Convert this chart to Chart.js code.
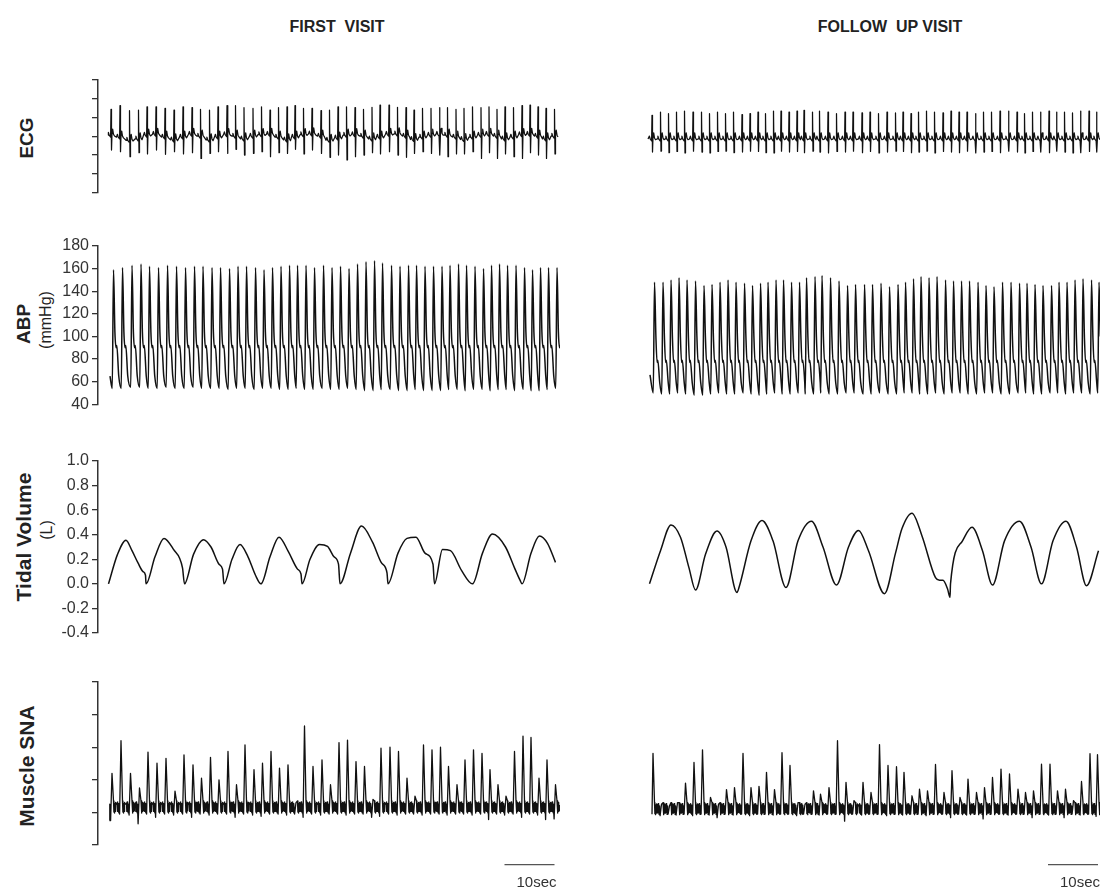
<!DOCTYPE html>
<html>
<head>
<meta charset="utf-8">
<title>First visit / follow up visit recordings</title>
<script src="https://cdn.jsdelivr.net/npm/chart.js@4.4.1/dist/chart.umd.min.js"></script>
<style>
  body { margin: 0; background: #fff; }
  #page { position: relative; width: 1103px; height: 894px; overflow: hidden;
          font-family: "Liberation Sans", Arial, sans-serif; color: #222; }
  canvas { position: absolute; }
  .head { position: absolute; top: 18px; font-weight: bold; font-size: 16px;
          transform: translateX(-50%); white-space: pre; }
  .ylab { position: absolute; transform: translate(-50%, -50%) rotate(-90deg);
          white-space: nowrap; font-weight: bold; font-size: 19px; }
  .big { font-size: 21px; }
  .unit { font-weight: normal; font-size: 16px; }
</style>
</head>
<body>
<div id="page">
  <div class="head" style="left:337px">FIRST  VISIT</div>
  <div class="head" style="left:890px">FOLLOW  UP VISIT</div>

  <div class="ylab" style="left:27px;top:138px">ECG</div>
  <div class="ylab" style="left:24px;top:324px">ABP</div>
  <div class="ylab unit" style="left:46px;top:320px">(mmHg)</div>
  <div class="ylab big" style="left:24px;top:537px">Tidal Volume</div>
  <div class="ylab unit" style="left:47px;top:530px">(L)</div>
  <div class="ylab big" style="left:27px;top:766px">Muscle SNA</div>

  <canvas id="ecg1" width="570" height="150" style="left:0;top:60px"></canvas>
  <canvas id="ecg2" width="503" height="150" style="left:600px;top:60px"></canvas>
  <canvas id="abp1" width="570" height="200" style="left:0;top:225px"></canvas>
  <canvas id="abp2" width="503" height="200" style="left:600px;top:225px"></canvas>
  <canvas id="tv1" width="570" height="215" style="left:0;top:440px"></canvas>
  <canvas id="tv2" width="503" height="215" style="left:600px;top:440px"></canvas>
  <canvas id="sna1" width="570" height="234" style="left:0;top:660px"></canvas>
  <canvas id="sna2" width="503" height="234" style="left:600px;top:660px"></canvas>
</div>

<script>
// ---- recorded values (time in s) ----

// systolic peak time of every cardiac cycle
const beats1 = [3.1, 4.9, 6.8, 8.6, 10.3, 12.1, 13.9, 15.7, 17.5, 19.3,
  21.0, 22.8, 24.5, 26.3, 28.0, 29.7, 31.5, 33.2, 34.9, 36.6,
  38.3, 39.9, 41.6, 43.3, 45.1, 46.8, 48.5, 50.2, 51.9, 53.6,
  55.3, 56.9, 58.7, 60.4, 62.1, 63.7, 65.4, 67.1, 68.8, 70.4,
  72.1, 73.7, 75.4, 77.1, 78.7, 80.3, 81.9, 83.6, 85.3, 86.9,
  88.5, 90.1, 91.8];
const beats2 = [1.9, 3.6, 5.2, 6.8, 8.4, 10.1, 11.8, 13.4, 15.0, 16.6,
  18.2, 19.9, 21.5, 23.1, 24.6, 26.2, 27.7, 29.3, 30.9, 32.3,
  34.0, 35.4, 37.1, 38.8, 40.5, 42.1, 43.9, 45.5, 47.2, 48.9,
  50.6, 52.1, 53.7, 55.2, 56.8, 58.4, 60.1, 61.7, 63.3, 64.9,
  66.6, 68.2, 69.8, 71.5, 73.2, 74.9, 76.4, 78.0, 79.6, 81.3,
  82.8, 84.4, 86.0, 87.6, 89.3, 90.8];

// ECG (arbitrary units, axis 0..6)
const ecgR1 = [4.43, 4.63, 4.36, 4.39, 4.57, 4.57, 4.48, 4.39, 4.57, 4.52,
  4.43, 4.39, 4.57, 4.63, 4.63, 4.52, 4.48, 4.57, 4.39, 4.52,
  4.57, 4.63, 4.48, 4.48, 4.36, 4.39, 4.57, 4.57, 4.52, 4.43,
  4.54, 4.66, 4.66, 4.54, 4.52, 4.39, 4.48, 4.48, 4.52, 4.52,
  4.43, 4.48, 4.57, 4.52, 4.57, 4.43, 4.57, 4.52, 4.63, 4.66,
  4.57, 4.48, 4.43];
const ecgS1 = [2.26, 2.17, 1.9, 2.12, 2.05, 2.26, 2.03, 2.17, 2.05, 2.12,
  1.81, 2.08, 2.17, 2.08, 2.3, 1.99, 2.08, 2.17, 1.9, 2.12,
  2.08, 2.3, 2.05, 2.26, 2.08, 1.87, 1.99, 1.73, 1.9, 1.99,
  2.12, 2.05, 2.17, 1.99, 1.87, 2.08, 2.17, 2.08, 1.99, 1.9,
  2.05, 2.05, 2.17, 1.81, 2.12, 1.81, 2.05, 1.9, 1.81, 2.12,
  1.99, 1.81, 2.05];
const ecgBase1 = [3.05, 2.95, 2.78, 2.85, 3.05, 3.1, 2.95, 2.8, 2.95, 3.1,
  3.0, 2.8, 2.95, 3.08, 3.0, 2.85, 3.0, 3.08, 3.1, 2.95,
  2.8, 2.95, 3.08, 3.12, 3.0, 2.78, 2.9, 3.05, 3.08, 3.0,
  2.85, 2.95, 3.1, 3.12, 3.0, 2.82, 2.95, 3.05, 3.1, 3.05,
  2.95, 2.82, 2.95, 3.05, 3.1, 3.0, 2.85, 2.95, 3.08, 3.1,
  3.0, 2.85, 3.0];
const ecgR2 = [4.11, 4.29, 4.2, 4.29, 4.34, 4.29, 4.29, 4.2, 4.29, 4.2,
  4.29, 4.15, 4.2, 4.29, 4.2, 4.34, 4.34, 4.29, 4.34, 4.38,
  4.29, 4.34, 4.29, 4.2, 4.29, 4.29, 4.24, 4.29, 4.2, 4.29,
  4.24, 4.29, 4.2, 4.29, 4.34, 4.29, 4.24, 4.34, 4.29, 4.29,
  4.2, 4.29, 4.29, 4.34, 4.34, 4.29, 4.2, 4.29, 4.29, 4.34,
  4.29, 4.29, 4.24, 4.34, 4.34, 4.29];
const ecgS2 = [2.15, 2.2, 2.12, 2.18, 2.1, 2.2, 2.15, 2.1, 2.18, 2.2,
  2.12, 2.15, 2.2, 2.18, 2.12, 2.1, 2.2, 2.15, 2.18, 2.12,
  2.2, 2.15, 2.1, 2.18, 2.15, 2.2, 2.12, 2.18, 2.1, 2.15,
  2.2, 2.18, 2.12, 2.15, 2.2, 2.1, 2.18, 2.15, 2.12, 2.2,
  2.1, 2.15, 2.18, 2.12, 2.2, 2.15, 2.1, 2.18, 2.15, 2.12,
  2.2, 2.15, 2.1, 2.12, 2.18, 2.15];
const ecgBase2 = 2.85;

// arterial pressure, mmHg
const abpSys1 = [159, 161, 163, 164, 162, 161, 163, 162, 161, 162,
  162, 161, 161, 160, 162, 162, 161, 159, 161, 162,
  163, 163, 163, 161, 163, 161, 162, 160, 164, 166,
  167, 165, 163, 162, 163, 163, 162, 162, 162, 163,
  164, 163, 162, 160, 163, 164, 163, 163, 161, 159,
  161, 161, 161];
const abpDia1 = [54, 54, 55, 55, 54, 54, 55, 54, 54, 55,
  54, 54, 54, 53, 54, 54, 53, 54, 54, 53,
  53, 54, 53, 53, 54, 53, 53, 54, 53, 52,
  52, 53, 53, 52, 52, 53, 52, 52, 52, 53,
  53, 52, 53, 53, 52, 53, 53, 52, 53, 52,
  52, 53, 54];
const abpSys2 = [148, 148, 150, 152, 150, 149, 145, 146, 148, 150,
  148, 147, 145, 147, 148, 150, 150, 148, 148, 152,
  153, 154, 152, 149, 145, 146, 146, 146, 147, 144,
  146, 148, 151, 153, 152, 153, 150, 149, 149, 149,
  148, 145, 144, 148, 148, 147, 147, 146, 145, 145,
  148, 148, 150, 151, 150, 148];
const abpDia2 = [50, 49, 49, 50, 49, 48, 48, 49, 50, 49,
  49, 50, 49, 48, 49, 50, 49, 49, 50, 49,
  49, 50, 49, 49, 50, 50, 49, 49, 50, 49,
  49, 50, 50, 49, 49, 50, 49, 50, 50, 49,
  49, 50, 50, 49, 49, 50, 50, 49, 49, 50,
  50, 49, 50, 50, 49, 50];
const abpDrop = [104, 100];   // end of the fast systolic fall
const abpNotch = [90, 77];    // dicrotic notch level
const abpLate = [65, 59];     // late diastole, before the next upstroke

// tidal volume, L
const tvTime1 = [2.1, 3.9, 5.6, 6.8, 8.0, 9.0, 9.5, 9.6, 11.4, 13.2, 15.1, 16.9, 17.3,
  19.1, 21.1, 22.6, 24.2, 24.9, 25.2, 26.8, 28.4, 30.0, 31.5, 32.6,
  34.4, 36.2, 38.1, 39.9, 40.6, 40.8, 42.4, 44.3, 45.9, 47.2, 48.1, 48.4,
  50.5, 52.7, 54.9, 56.7, 57.8, 58.0, 60.0, 61.8, 63.6, 65.4, 67.0, 67.3,
  68.9, 70.5, 72.7, 74.9, 76.9, 78.9, 81.5, 83.3, 84.4, 84.8,
  86.6, 88.3, 89.9, 91.5];
const tvVol1 = [0.0, 0.24, 0.355, 0.27, 0.17, 0.10, 0.07, 0.0, 0.22, 0.37, 0.28, 0.13, 0.0,
  0.24, 0.36, 0.30, 0.16, 0.12, 0.0, 0.20, 0.32, 0.22, 0.07, 0.0,
  0.22, 0.38, 0.26, 0.12, 0.08, 0.0, 0.20, 0.32, 0.305, 0.22, 0.16, 0.0,
  0.25, 0.47, 0.34, 0.17, 0.09, 0.0, 0.25, 0.37, 0.38, 0.25, 0.16, 0.0,
  0.28, 0.27, 0.11, 0.0, 0.25, 0.405, 0.30, 0.13, 0.03, 0.0,
  0.25, 0.39, 0.33, 0.175];
const tvTime2 = [0.9, 3.1, 5.2, 7.1, 8.8, 10.1, 12.1, 14.4, 16.2, 18.4, 18.8,
  21.2, 23.4, 25.6, 28.2, 30.6, 33.3, 35.6, 38.3, 40.7, 42.7, 44.7, 47.9,
  50.1, 51.4, 53.4, 55.4, 58.1, 58.9, 59.6, 60.5, 61.0, 61.1,
  63.5, 65.4, 67.5, 69.5, 71.9, 74.9, 77.2, 79.3, 81.6, 84.2, 86.3, 88.3, 90.7];
const tvVol2 = [0.0, 0.27, 0.48, 0.38, 0.13, -0.05, 0.24, 0.43, 0.30, -0.07, -0.03,
  0.35, 0.515, 0.35, -0.03, 0.35, 0.51, 0.30, -0.01, 0.30, 0.435, 0.27, -0.08,
  0.25, 0.45, 0.575, 0.39, 0.05, 0.03, 0.03, -0.04, -0.11, 0.0,
  0.35, 0.46, 0.27, -0.01, 0.35, 0.51, 0.30, 0.0, 0.35, 0.51, 0.30, -0.015, 0.27];

// muscle sympathetic nerve activity, burst height per cardiac cycle (axis 0..5)
const snaPeak1 = [2.2, 3.2, 2.2, 1.75, 2.85, 2.51, 2.66, 1.65, 2.76, 2.46,
  2.05, 2.69, 2.0, 2.87, 1.85, 3.07, 2.31, 2.51, 2.87, 2.36,
  2.46, 1.3, 3.65, 2.41, 2.61, 1.85, 3.14, 3.22, 2.56, 2.41,
  1.4, 2.97, 3.0, 2.87, 2.05, 1.5, 3.07, 2.92, 3.0, 2.41,
  1.85, 2.61, 2.92, 2.81, 2.31, 1.85, 1.5, 2.87, 3.34, 3.3,
  2.05, 2.61, 1.85];
const snaLow1 = [0.75, 0.95, 0.92, 0.65, 0.95, 0.85, 0.95, 0.92, 0.95, 0.85,
  0.95, 0.92, 0.95, 0.95, 0.85, 0.95, 0.92, 0.88, 0.95, 0.95,
  0.92, 0.95, 0.85, 0.95, 0.92, 0.95, 0.95, 0.92, 0.95, 0.95,
  0.85, 0.88, 0.95, 0.92, 0.95, 0.95, 0.92, 0.95, 0.95, 0.92,
  0.95, 0.95, 0.92, 0.95, 0.78, 0.95, 0.92, 0.95, 0.85, 0.95,
  0.92, 0.78, 0.8];
const snaPeak2 = [2.81, 1.25, 1.2, 1.3, 1.9, 2.53, 2.92, 1.46, 1.25, 1.7,
  1.76, 2.81, 1.76, 1.8, 2.23, 1.7, 2.83, 2.44, 1.3, 1.25,
  1.66, 1.56, 1.76, 3.2, 1.92, 1.36, 1.92, 1.61, 3.08, 2.44,
  2.4, 2.23, 1.51, 1.71, 1.66, 2.47, 1.61, 2.28, 1.46, 2.02,
  1.61, 1.76, 2.07, 2.33, 2.18, 1.71, 1.61, 1.66, 2.48, 2.48,
  1.66, 1.71, 1.36, 1.95, 2.8, 2.77];
const snaLow2 = [0.94, 0.9, 0.95, 0.92, 0.95, 0.9, 0.95, 0.92, 0.84, 0.95,
  0.92, 0.95, 0.9, 0.95, 0.95, 0.92, 0.95, 0.95, 0.9, 0.95,
  0.95, 0.92, 0.95, 0.95, 0.73, 0.95, 0.92, 0.95, 0.95, 0.9,
  0.95, 0.92, 0.95, 0.95, 0.9, 0.95, 0.95, 0.84, 0.95, 0.92,
  0.95, 0.8, 0.95, 0.95, 0.92, 0.95, 0.95, 0.84, 0.95, 0.92,
  0.95, 0.84, 0.95, 0.92, 0.95, 0.88];
const snaBase = [1.15, 1.1];

// where each trace begins: [time, value]
const ecgStart = [2.0, 0.6];
const abpStart = [[2.4, 65], [1.0, 66]];
const snaStart = [[2.3, 0.75], [1.4, 0.94]];

// time windows and the 10 s calibration bar
const windowSec = [92.4, 91];
const scaleBar = [[81.3, 91.3], [80.6, 90.6]];

// ---- waveform builders ----

const lead = (t0, v0, pts) => [{ x: t0, y: v0 }].concat(pts.filter(p => p.x > t0));

function ecgTrace(beats, rAmp, sAmp, base, t0) {
  const pts = [];
  beats.forEach((tp, i) => {
    const r = tp - 0.5;
    const b = Array.isArray(base) ? base[i] : base;
    pts.push(
      { x: r - 0.7, y: b },
      { x: r - 0.52, y: b + 0.15 },
      { x: r - 0.36, y: b },
      { x: r - 0.08, y: b - 0.1 },
      { x: r, y: rAmp[i] },
      { x: r + 0.1, y: sAmp[i] },
      { x: r + 0.2, y: b + 0.1 },
      { x: r + 0.34, y: b + 0.32 },
      { x: r + 0.5, y: b + 0.05 },
      { x: r + 0.7, y: b - 0.04 }
    );
  });
  return lead(t0, Array.isArray(base) ? base[0] : base, pts);
}

function abpTrace(beats, sys, dia, col, start) {
  const pts = [];
  beats.forEach((tp, i) => {
    pts.push(
      { x: tp - 0.25, y: dia[i] },
      { x: tp, y: sys[i] },
      { x: tp + 0.28, y: abpDrop[col] },
      { x: tp + 0.52, y: abpNotch[col] },
      { x: tp + 0.66, y: abpNotch[col] + 2 },
      { x: tp + 1.05, y: abpLate[col] }
    );
  });
  return lead(start[0], start[1], pts);
}

// baseline jitter of the integrated neurogram, relative to the resting level
const snaJitter = [0.14, -0.12, 0.17, -0.1, 0.12, -0.16, 0.1, -0.08];

function snaTrace(beats, peak, low, b, start) {
  const pts = [];
  beats.forEach((tp, i) => {
    const tb = tp - 0.3;
    snaJitter.forEach((d, k) => pts.push({ x: tb - 0.8 + k * 0.065, y: b + d }));
    pts.push(
      { x: tb - 0.28, y: low[i] },
      { x: tb, y: peak[i] },
      { x: tb + 0.3, y: b + 0.2 }
    );
    snaJitter.forEach((d, k) => pts.push({ x: tb + 0.38 + k * 0.055, y: b - d }));
  });
  return lead(start[0], start[1], pts);
}

// ---- chart setup ----

const FONT = '"Liberation Sans", Arial, sans-serif';
const INK = '#111';

const barLabel = {
  id: 'barLabel',
  afterDatasetsDraw(chart, args, opts) {
    const { ctx, scales: { x, y } } = chart;
    ctx.save();
    ctx.font = '15px ' + FONT;
    ctx.fillStyle = '#333';
    ctx.textAlign = 'right';
    ctx.textBaseline = 'middle';
    ctx.fillText('10sec', x.getPixelForValue(opts.end) + 2, y.getPixelForValue(-1.17));
    ctx.restore();
  }
};

function yAxis(left, min, max, step, showLabels, fmt) {
  if (!left) return { display: false, min, max };
  return {
    position: 'left',
    min, max,
    ticks: {
      display: showLabels,
      stepSize: step,
      color: '#333',
      padding: 3,
      font: { family: FONT, size: 16 },
      callback: fmt || (v => v)
    },
    grid: { drawOnChartArea: false, drawTicks: true, tickLength: 6, color: '#333', lineWidth: 1.3 },
    border: { display: true, color: '#333', width: 1.5 },
    afterFit: s => { s.width = 98; }
  };
}

function makeChart(id, col, datasets, y, pad, extra) {
  const cfg = {
    type: 'line',
    data: { datasets },
    options: {
      responsive: false,
      animation: false,
      devicePixelRatio: 1,
      layout: { padding: { left: col === 0 ? 0 : 45, right: col === 0 ? 10 : 3, top: pad[0], bottom: pad[1] } },
      plugins: { legend: { display: false }, tooltip: { enabled: false } },
      elements: { point: { radius: 0 } },
      scales: {
        x: { type: 'linear', display: false, min: 0, max: windowSec[col] },
        y
      }
    }
  };
  if (extra) {
    cfg.plugins = [barLabel];
    cfg.options.plugins.barLabel = extra;
  }
  return new Chart(document.getElementById(id), cfg);
}

const trace = (data, width, smooth) => ({
  data,
  borderColor: INK,
  borderWidth: width,
  borderJoinStyle: 'round',
  cubicInterpolationMode: smooth ? 'monotone' : 'default',
  tension: 0
});

const tvFmt = v => (Math.abs(v) < 1e-9 ? '0.0' : Number(v).toFixed(1));

// ECG
makeChart('ecg1', 0, [trace(ecgTrace(beats1, ecgR1, ecgS1, ecgBase1, ecgStart[0]), 1.25)],
  yAxis(true, 0, 6, 1, false), [20, 17.7]);
makeChart('ecg2', 1, [trace(ecgTrace(beats2, ecgR2, ecgS2, ecgBase2, ecgStart[1]), 1.25)],
  yAxis(false, 0, 6), [20, 17.7]);

// ABP
makeChart('abp1', 0, [trace(abpTrace(beats1, abpSys1, abpDia1, 0, abpStart[0]), 1.5, true)],
  yAxis(true, 40, 180, 20, true), [21, 20.7]);
makeChart('abp2', 1, [trace(abpTrace(beats2, abpSys2, abpDia2, 1, abpStart[1]), 1.5, true)],
  yAxis(false, 40, 180), [21, 20.7]);

// tidal volume
makeChart('tv1', 0, [trace(tvTime1.map((t, i) => ({ x: t, y: tvVol1[i] })), 1.5, true)],
  yAxis(true, -0.4, 1.0, 0.2, true, tvFmt), [21, 22]);
makeChart('tv2', 1, [trace(tvTime2.map((t, i) => ({ x: t, y: tvVol2[i] })), 1.5, true)],
  yAxis(false, -0.4, 1.0), [21, 22]);

// muscle SNA with the 10 s bar underneath
const barSet = col => ({
  data: [{ x: scaleBar[col][0], y: -0.6 }, { x: scaleBar[col][1], y: -0.6 }],
  borderColor: '#555',
  borderWidth: 1.2,
  clip: false
});
makeChart('sna1', 0, [trace(snaTrace(beats1, snaPeak1, snaLow1, snaBase[0], snaStart[0]), 1.3), barSet(0)],
  yAxis(true, 0, 5, 1, false), [22, 49], { end: scaleBar[0][1] });
makeChart('sna2', 1, [trace(snaTrace(beats2, snaPeak2, snaLow2, snaBase[1], snaStart[1]), 1.3), barSet(1)],
  yAxis(false, 0, 5), [22, 49], { end: scaleBar[1][1] });
</script>
</body>
</html>
